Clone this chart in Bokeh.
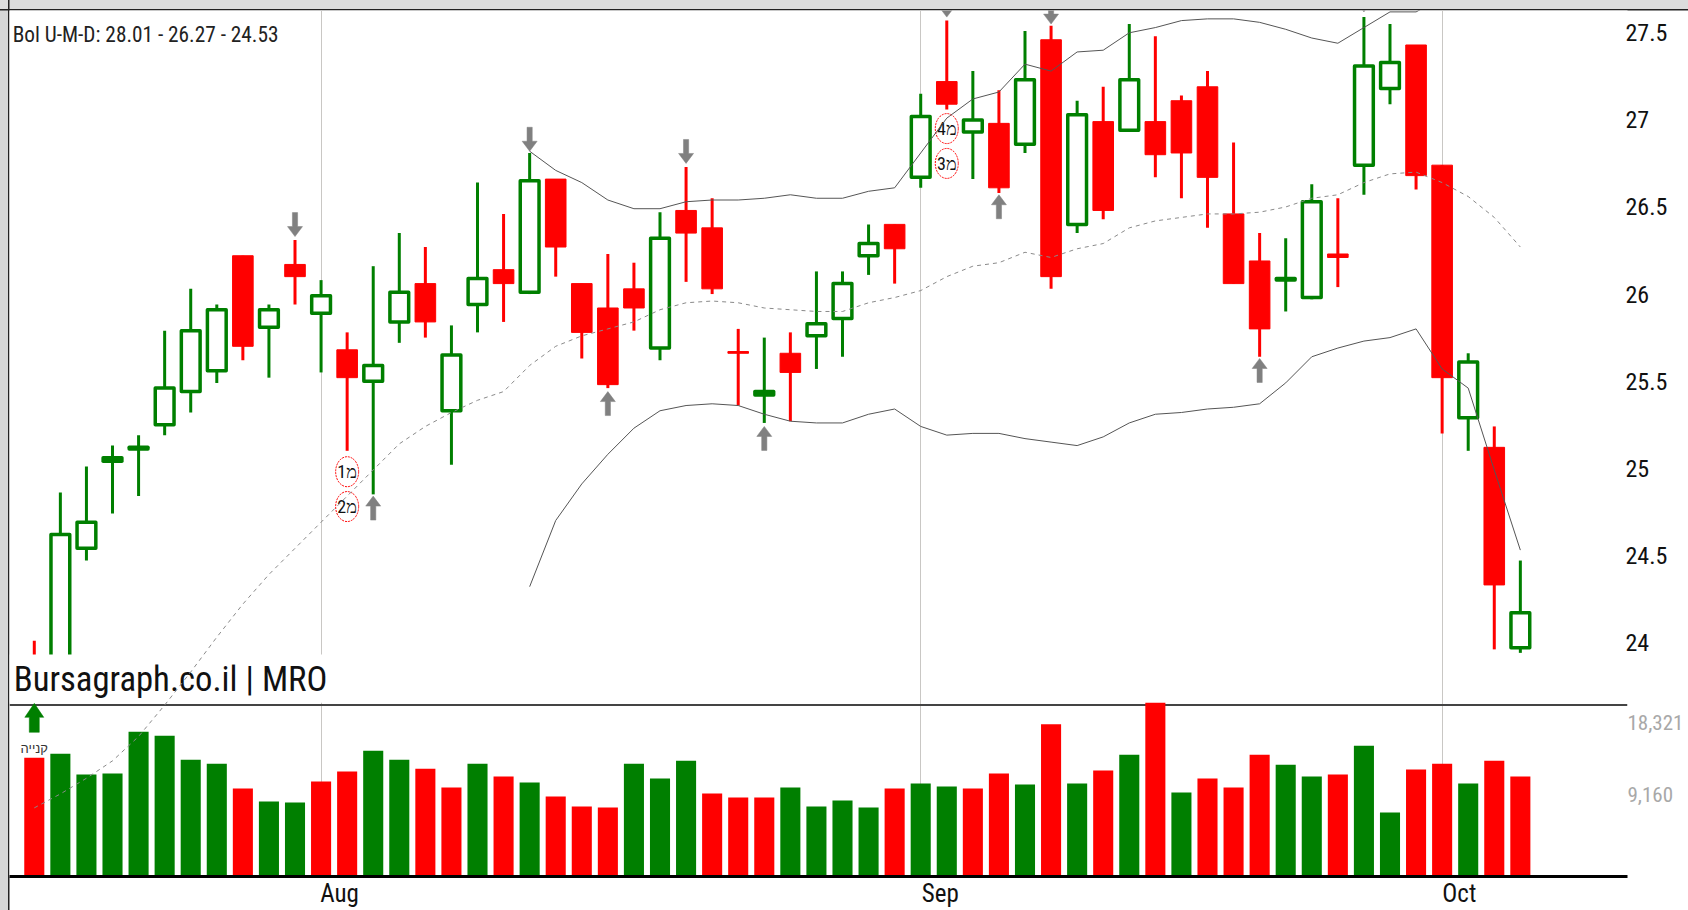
from bokeh.plotting import figure
from bokeh.models import Range1d, LinearAxis, FixedTicker
from bokeh.core.properties import value
from bokeh.embed import file_html
from bokeh.resources import INLINE

FONT = "Roboto Condensed"

opens = [23.90,23.73,24.53,25.04,25.11,25.24,25.43,25.55,26.22,25.80,26.17,25.88,25.68,25.49,25.83,26.06,25.32,25.93,26.14,26.00,
         26.66,26.06,25.92,26.03,25.68,26.48,26.38,25.67,25.42,25.66,25.75,25.85,26.21,26.40,26.66,27.22,26.92,26.98,26.85,27.46,
         26.39,26.99,26.93,26.99,27.11,27.19,26.46,26.19,26.08,25.97,26.23,26.73,27.17,27.43,26.74,25.28,25.12,23.96]
highs = [24.01,24.86,25.01,25.13,25.19,25.79,26.03,25.94,26.22,25.94,26.31,26.08,25.78,26.16,26.35,26.27,25.82,26.64,26.46,26.81,
         26.66,26.06,26.23,26.18,26.47,26.73,26.55,25.80,25.75,25.78,26.13,26.13,26.40,26.40,27.15,27.57,27.28,27.17,27.51,27.54,
         27.11,27.19,27.55,27.48,27.14,27.28,26.87,26.35,26.32,26.63,26.55,27.59,27.55,27.43,26.74,25.66,25.24,24.47]
lows = [23.70,23.73,24.47,24.74,24.84,25.19,25.32,25.49,25.62,25.52,25.94,25.55,25.10,24.85,25.72,25.75,25.02,25.78,25.84,26.00,
        26.10,25.63,25.46,25.79,25.62,26.07,26.00,25.36,25.26,25.27,25.57,25.64,26.11,26.06,26.61,27.06,26.66,26.58,26.81,26.03,
        26.35,26.43,26.93,26.67,26.55,26.38,26.06,25.64,25.90,25.97,26.04,26.57,27.09,26.60,25.20,25.10,23.96,23.94]
closes = [23.73,24.63,24.70,25.06,25.12,25.47,25.80,25.92,25.70,25.92,26.10,26.00,25.52,25.60,26.02,25.84,25.66,26.10,26.06,26.66,
          26.27,25.78,25.48,25.92,26.33,26.35,26.03,25.66,25.44,25.55,25.84,26.07,26.30,26.26,27.03,27.09,27.01,26.61,27.24,26.10,
          27.04,26.48,27.24,26.80,26.81,26.67,26.06,25.80,26.09,26.54,26.21,27.32,27.34,26.68,25.52,25.62,24.33,24.18]

volumes = [12530,12951,10740,10845,15267,14846,12319,11898,9266,7897,7791,10003,11055,13267,12319,11371,9371,11898,10529,9897,
           8423,7370,7265,11898,10318,12214,8739,8318,8318,9371,7370,8002,7265,9266,9792,9476,9266,10845,9687,16057,
           9792,11161,12845,18321,8844,10318,9371,12845,11792,10529,10740,13793,6739,11266,11898,9792,12214,10529]
volume_colors = ("r g g g g g g g r g g r r g g r r g r g r r r g g g r r r g g g g r g g r r g r g r g r g r r r g g r g g r r g r r").split()

boll_upper = [26.82,26.71,26.64,26.54,26.49,26.49,26.53,26.54,26.54,26.55,26.57,26.55,26.55,26.59,26.61,26.81,27.01,27.12,27.16,27.32,
              27.28,27.39,27.40,27.50,27.53,27.57,27.58,27.58,27.56,27.52,27.47,27.44,27.53,27.62,27.62,27.70,27.85,27.95,28.01]
boll_mid = [23.05,23.13,23.22,23.32,23.46,23.64,23.83,24.03,24.22,24.39,24.54,24.69,24.84,24.99,25.14,25.24,25.32,25.39,25.44,25.59,
            25.70,25.76,25.80,25.84,25.91,25.95,25.96,25.95,25.92,25.91,25.90,25.90,25.95,25.98,26.02,26.10,26.16,26.18,26.24,26.21,
            26.26,26.29,26.38,26.42,26.44,26.46,26.46,26.47,26.50,26.55,26.57,26.64,26.69,26.70,26.64,26.56,26.44,26.27]
boll_lower = [24.32,24.70,24.91,25.08,25.23,25.33,25.36,25.37,25.36,25.31,25.27,25.26,25.26,25.31,25.34,25.24,25.19,25.20,25.20,25.17,
              25.15,25.13,25.18,25.26,25.31,25.32,25.34,25.35,25.37,25.49,25.64,25.69,25.73,25.75,25.80,25.57,25.46,24.99,24.53]

month_ticks = [11, 34, 54]
month_label_pos = [11.71, 34.75, 54.66]
month_labels = ["Aug", "Sep", "Oct"]
price_ticks = [24, 24.5, 25, 25.5, 26, 26.5, 27, 27.5]
price_labels = ["24", "24.5", "25", "25.5", "26", "26.5", "27", "27.5"]
volume_ticks = [18321, 9160]
volume_labels = ["18,321", "9,160"]

down_i = [10, 19, 25, 35, 39, 51]
down_tip = [26.33, 26.82, 26.75, 27.59, 27.55, 27.62]
up_i = [13, 22, 28, 37, 47]
up_tip = [24.84, 25.44, 25.24, 26.57, 25.63]
buy_i = [0]
buy_tip = [23.65]
badge_i = [12, 12, 35, 35]
badge_p = [24.98, 24.78, 26.95, 26.75]
badge_text = ["מ1", "מ2", "מ4", "מ3"]

GREEN = "#007f00"
RED = "#ff0000"
PX_X = 1 / 26.07
PX_Y = 1 / 174.4

n = len(opens)
xs = list(range(n))
p = figure(width=1688, height=910, output_backend="svg", toolbar_location=None,
           x_range=Range1d(-0.951, 61.11), y_range=Range1d(22.656, 27.628),
           min_border_left=9, min_border_top=10, min_border_right=61, min_border_bottom=33,
           background_fill_color="white", border_fill_color=None, outline_line_color=None)
p.styles = {"background": ("linear-gradient(#222,#222) 0 8.5px/100% 1.5px no-repeat,"
                           "linear-gradient(#222,#222) 7.5px 0/1.5px 100% no-repeat,"
                           "linear-gradient(#dcdddd,#dcdddd) 0 0/100% 9px no-repeat,"
                           "linear-gradient(#d6d7d7,#d6d7d7) 0 0/8px 100% no-repeat,"
                           "white")}
p.extra_y_ranges = {"vol": Range1d(0, 91286), "voltick": Range1d(-1273, 109036)}
p.ygrid.visible = False
p.xgrid.ticker = FixedTicker(ticks=month_ticks)
p.xgrid.grid_line_color = "#c9c7c4"
p.xgrid.grid_line_width = 1
p.yaxis.visible = False
p.xaxis.ticker = FixedTicker(ticks=month_label_pos)
p.xaxis.major_label_overrides = dict(zip(month_label_pos, month_labels))
p.xaxis.major_label_text_font = FONT
p.xaxis.major_label_text_font_size = "25px"
p.xaxis.major_label_text_color = "#111111"
p.xaxis.major_label_standoff = -4
p.xaxis.axis_line_color = "#000000"
p.xaxis.axis_line_width = 3
p.xaxis.major_tick_line_color = None
p.xaxis.minor_tick_line_color = None

right = LinearAxis(ticker=FixedTicker(ticks=price_ticks),
                   major_label_overrides=dict(zip(price_ticks, price_labels)),
                   major_label_text_font=FONT, major_label_text_font_size="24px",
                   major_label_text_color="#111111", major_label_standoff=-8,
                   axis_line_color=None, major_tick_line_color=None, minor_tick_line_color=None)
p.add_layout(right, "right")
vol_axis = LinearAxis(y_range_name="voltick", ticker=FixedTicker(ticks=volume_ticks),
                      major_label_overrides=dict(zip(volume_ticks, volume_labels)),
                      major_label_text_font=FONT, major_label_text_font_size="21px",
                      major_label_text_color="#a8a8a8", major_label_standoff=-49,
                      axis_line_color=None, major_tick_line_color=None, minor_tick_line_color=None)
p.add_layout(vol_axis, "right")

# separator between panels, under the bars
p.segment(x0=[-0.951], x1=[61.11], y0=[23.64], y1=[23.64], line_color="#444444", line_width=2)

# volume
p.vbar(x=xs, top=volumes, bottom=0, width=0.77, y_range_name="vol",
       fill_color=[GREEN if c == "g" else RED for c in volume_colors], line_color=None)

# candles
is_up = [c > o for o, c in zip(opens, closes)]
cols = [GREEN if u else RED for u in is_up]
p.segment(x0=xs, x1=xs, y0=lows, y1=highs, line_color=cols, line_width=3)
inset = 1.75 * PX_Y
def shrink(a, b):
    return (a - inset, b + inset) if a - b > 3 * inset else (a, b)
ub = [i for i in xs if is_up[i]]
db = [i for i in xs if not is_up[i]]
rows = [shrink(closes[i], opens[i]) for i in ub]
p.vbar(x=ub, top=[r[0] for r in rows], bottom=[r[1] for r in rows], width=0.72,
       fill_color="white", line_color=GREEN, line_width=3.5, line_join="round")
p.vbar(x=db, top=[opens[i] for i in db], bottom=[closes[i] for i in db], width=0.79,
       fill_color=RED, line_color=RED, line_width=1)

# white plate under the title
p.quad(left=[-0.951], right=[11.8], top=[23.93], bottom=[23.654], fill_color="white", line_color=None)

# arrows
def arrow(i, tip, sign, half_head, head, total, half_shaft):
    base = tip + sign * head * PX_Y
    end = tip + sign * total * PX_Y
    hx, sx = half_head * PX_X, half_shaft * PX_X
    return ([i, i + hx, i + sx, i + sx, i - sx, i - sx, i - hx],
            [tip, base, base, end, end, base, base])
shapes = [arrow(i, t, 1, 7.5, 10, 24, 2.6) for i, t in zip(down_i, down_tip)]
shapes += [arrow(i, t, -1, 7.5, 10, 24, 2.6) for i, t in zip(up_i, up_tip)]
p.patches([s[0] for s in shapes], [s[1] for s in shapes], fill_color="#808080", line_color="#808080", line_width=0.5)
shapes = [arrow(i, t, -1, 9.5, 14, 29, 5) for i, t in zip(buy_i, buy_tip)]
p.patches([s[0] for s in shapes], [s[1] for s in shapes], fill_color=GREEN, line_color=GREEN, line_width=0.5)

# badges
p.ellipse(x=badge_i, y=badge_p, width=23, height=30, width_units="screen", height_units="screen",
          fill_color="white", line_color=RED, line_width=1, line_dash="2 1")
p.text(x=badge_i, y=badge_p, text=badge_text, text_font=value(FONT), text_font_size="18px",
       text_align="center", text_baseline="middle", text_color="#111111")

# texts
p.text(x=[-0.83], y=[27.49], text=["Bol U-M-D: 28.01 - 26.27 - 24.53"], text_font=value(FONT),
       text_font_size="21.3px", text_baseline="middle", text_color="#222222")
p.text(x=[-0.79], y=[23.79], text=["Bursagraph.co.il | MRO"], text_font=value(FONT),
       text_font_size="34.7px", text_baseline="middle", text_color="#111111")
p.text(x=buy_i, y=[23.39], text=["קנייה"], text_font=value("Liberation Sans"), text_font_size="13px",
       text_align="center", text_baseline="middle", text_color="#333333")

# bollinger
first_band = 19
p.line(list(range(first_band, n)), boll_upper, line_color="#555555", line_width=1)
p.line(list(range(first_band, n)), boll_lower, line_color="#555555", line_width=1)
p.line(xs, boll_mid, line_color="#8a8a8a", line_width=1, line_dash="4 4")

open("out.html", "w").write(file_html(p, INLINE))
